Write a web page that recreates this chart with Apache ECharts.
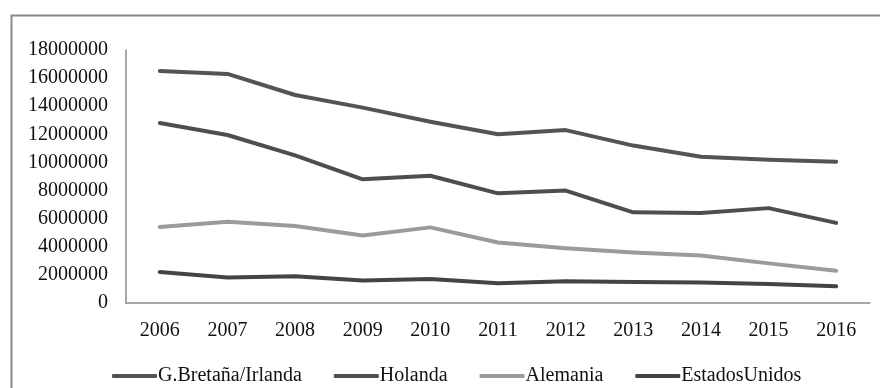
<!DOCTYPE html>
<html>
<head>
<meta charset="utf-8">
<script src="https://cdn.jsdelivr.net/npm/echarts@6/dist/echarts.min.js"></script>
<style>
  html, body { margin: 0; padding: 0; background: #fff; }
  #chart { width: 880px; height: 388px; }
</style>
</head>
<body>
<div id="chart"></div>
<script>
// Years on the category axis
const years = ['2006', '2007', '2008', '2009', '2010', '2011', '2012', '2013', '2014', '2015', '2016'];

// Visitors per origin market
const granBretanaIrlanda = [16500000, 16300000, 14800000, 13900000, 12900000, 12000000, 12300000, 11200000, 10400000, 10200000, 10050000];
const holanda = [12800000, 11950000, 10500000, 8800000, 9050000, 7800000, 8000000, 6450000, 6400000, 6750000, 5700000];
const alemania = [5400000, 5780000, 5480000, 4800000, 5380000, 4300000, 3900000, 3600000, 3380000, 2820000, 2300000];
const estadosUnidos = [2200000, 1820000, 1900000, 1600000, 1700000, 1400000, 1550000, 1500000, 1450000, 1350000, 1200000];

const seriesNames = ['G.Bretaña/Irlanda', 'Holanda', 'Alemania', 'EstadosUnidos'];
const seriesData = [granBretanaIrlanda, holanda, alemania, estadosUnidos];
const seriesColors = ['#545454', '#4e4e4e', '#9b9b9b', '#444444'];

const font = 'Liberation Serif, Times New Roman, serif';

const chart = echarts.init(document.getElementById('chart'), null, { renderer: 'canvas' });

chart.setOption({
  animation: false,
  backgroundColor: '#ffffff',
  graphic: [{
    type: 'rect',
    left: 9,
    top: 13,
    shape: { width: 900, height: 420 },
    style: { fill: 'none', stroke: '#8a8a8a', lineWidth: 2 },
    silent: true,
    z: -1
  }],
  grid: { left: 126, right: 10, top: 50, bottom: 85, containLabel: false },
  legend: {
    data: seriesNames.map((n, i) => ({ name: n, icon: 'roundRect', itemStyle: { color: seriesColors[i] } })),
    left: 107,
    top: 361,
    itemWidth: 45,
    itemHeight: 4,
    itemGap: 32,
    textStyle: { fontFamily: font, fontSize: 20, color: '#111', padding: [0, 0, 0, -4] }
  },
  xAxis: {
    type: 'category',
    data: years,
    boundaryGap: true,
    axisLine: { lineStyle: { color: '#8c8c8c', width: 1.5 } },
    axisTick: { show: false },
    axisLabel: { fontFamily: font, fontSize: 20, color: '#111', margin: 18 }
  },
  yAxis: {
    type: 'value',
    min: 0,
    max: 18000000,
    interval: 2000000,
    axisLine: { show: true, lineStyle: { color: '#8c8c8c', width: 1.5 } },
    axisTick: { show: false },
    splitLine: { show: false },
    axisLabel: {
      fontFamily: font, fontSize: 20, color: '#111', margin: 18,
      formatter: (v) => String(v)
    }
  },
  series: seriesNames.map((name, i) => ({
    name: name,
    type: 'line',
    data: seriesData[i],
    showSymbol: false,
    symbol: 'none',
    lineStyle: { color: seriesColors[i], width: 4, cap: 'round', join: 'round' },
    itemStyle: { color: seriesColors[i] }
  }))
});
</script>
</body>
</html>
